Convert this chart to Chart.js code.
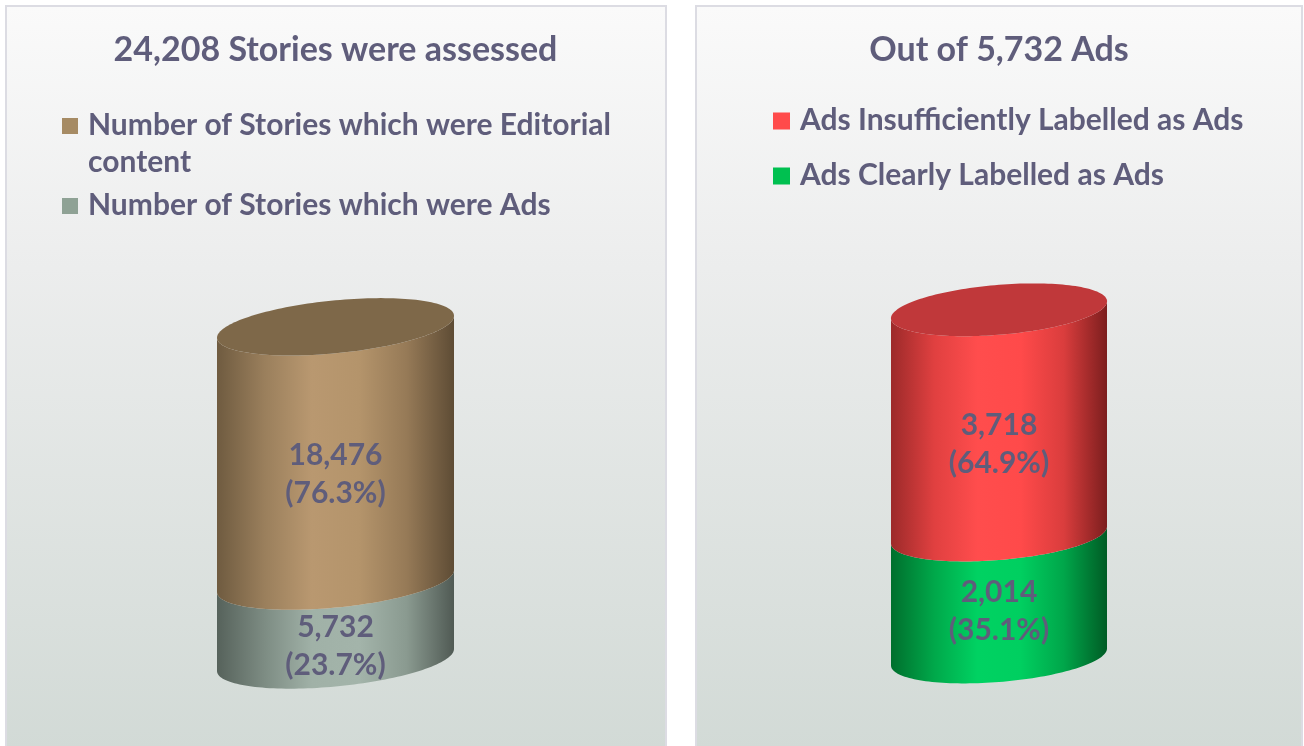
<!DOCTYPE html>
<html>
<head>
<meta charset="utf-8">
<script src="https://cdn.jsdelivr.net/npm/chart.js@4.4.1/dist/chart.umd.min.js"></script>
<style>
  body { margin: 0; background: #fff; width: 1304px; height: 746px; overflow: hidden; position: relative; }
  .panel {
    position: absolute; top: 5px; height: 745px; box-sizing: border-box;
    border: 2px solid #dcdce3; border-bottom: none;
    background: linear-gradient(#fafafa 0%, #eceded 35%, #d2dad6 100%);
  }
  canvas { position: absolute; top: 5px; }
</style>
</head>
<body>
<div class="panel" style="left:5px;width:662px"></div>
<div class="panel" style="left:695px;width:608px"></div>
<canvas id="chartStories" width="661" height="741" style="left:5px"></canvas>
<canvas id="chartAds" width="606" height="741" style="left:696px"></canvas>

<script>
// ---- dados (de baixo para cima na pilha) ----
const storiesTitle = '24,208 Stories were assessed';
const storiesLabels = ['Number of Stories which were Ads', 'Number of Stories which were Editorial content'];
const storiesValues = [5732, 18476];

const adsTitle = 'Out of 5,732 Ads';
const adsLabels = ['Ads Clearly Labelled as Ads', 'Ads Insufficiently Labelled as Ads'];
const adsValues = [2014, 3718];

const textColor = '#5f5d7b';
const fontFamily = 'Lato, Carlito, "Open Sans", sans-serif';

// desenha um segmento do cilindro (elipse inclinada por cisalhamento)
function desenharSegmento(ctx, cx, rx, ry, s, yTop, yBase, stops, capColor) {
  const g = ctx.createLinearGradient(cx - rx, 0, cx + rx, 0);
  stops.forEach((c, i) => g.addColorStop(i / (stops.length - 1), c));
  ctx.beginPath();
  ctx.moveTo(cx - rx, yTop + s);
  ctx.lineTo(cx - rx, yBase + s);
  for (let k = 0; k <= 80; k++) {
    const t = Math.PI * (1 - k / 80);
    ctx.lineTo(cx + rx * Math.cos(t), yBase + ry * Math.sin(t) - s * Math.cos(t));
  }
  ctx.lineTo(cx + rx, yTop - s);
  for (let k = 0; k <= 80; k++) {
    const t = Math.PI * k / 80;
    ctx.lineTo(cx + rx * Math.cos(t), yTop + ry * Math.sin(t) - s * Math.cos(t));
  }
  ctx.closePath();
  ctx.fillStyle = g;
  ctx.fill();

  if (capColor) {
    ctx.beginPath();
    for (let k = 0; k <= 160; k++) {
      const t = 2 * Math.PI * k / 160;
      const px = cx + rx * Math.cos(t), py = yTop + ry * Math.sin(t) - s * Math.cos(t);
      if (k === 0) ctx.moveTo(px, py); else ctx.lineTo(px, py);
    }
    ctx.closePath();
    ctx.fillStyle = capColor;
    ctx.fill();
  }
}

const cilindroPlugin = {
  id: 'cilindro',
  beforeDatasetsDraw(chart, args, opts) {
    const ctx = chart.ctx;
    const n = chart.data.datasets.length;
    ctx.save();
    for (let i = 0; i < n; i++) {
      const bar = chart.getDatasetMeta(i).data[0];
      const rx = bar.width / 2;
      desenharSegmento(ctx, bar.x, rx, opts.ry, opts.shear, bar.y, bar.base,
        opts.gradients[i], i === n - 1 ? opts.capColor : null);
    }
    ctx.restore();
    return false;
  },
  afterDraw(chart, args, opts) {
    const ctx = chart.ctx;
    const valores = chart.data.datasets.map(d => d.data[0]);
    const total = valores.reduce((a, b) => a + b, 0);
    ctx.save();
    ctx.fillStyle = textColor;
    ctx.font = 'bold 30px ' + fontFamily;
    ctx.textAlign = 'center';
    ctx.textBaseline = 'middle';
    chart.data.datasets.forEach((ds, i) => {
      const bar = chart.getDatasetMeta(i).data[0];
      const yc = (bar.y + bar.base) / 2 + opts.labelOffset[i];
      const v = ds.data[0];
      ctx.fillText(v.toLocaleString('en-US'), bar.x, yc - 19);
      ctx.fillText('(' + (v / total * 100).toFixed(1) + '%)', bar.x, yc + 19);
    });
    ctx.restore();
  }
};

// legenda desenhada à mão (quebra de linha no texto)
const legendaPlugin = {
  id: 'legendaManual',
  afterDraw(chart, args, opts) {
    const ctx = chart.ctx;
    ctx.save();
    ctx.font = 'bold 30px ' + fontFamily;
    ctx.textBaseline = 'middle';
    let y = opts.y;
    const ds = chart.data.datasets.slice().reverse();
    ds.forEach(d => {
      const palavras = d.label.split(' ');
      const linhas = [];
      let atual = '';
      palavras.forEach(p => {
        const teste = atual ? atual + ' ' + p : p;
        if (ctx.measureText(teste).width > opts.maxWidth && atual) {
          linhas.push(atual);
          atual = p;
        } else {
          atual = teste;
        }
      });
      linhas.push(atual);
      ctx.fillStyle = d.backgroundColor;
      ctx.fillRect(opts.markerX, y - opts.box / 2 + 1, opts.box, opts.box);
      ctx.fillStyle = textColor;
      linhas.forEach((l, j) => ctx.fillText(l, opts.textX, y + j * opts.lineGap));
      y += (linhas.length - 1) * opts.lineGap + opts.itemGap;
    });
    ctx.restore();
  }
};

function montarCilindro(idCanvas, titulo, labels, valores, cores, cfg) {
  const total = valores.reduce((a, b) => a + b, 0);
  return new Chart(document.getElementById(idCanvas), {
    type: 'bar',
    data: {
      labels: [''],
      datasets: labels.map((l, i) => ({
        label: l,
        data: [valores[i]],
        backgroundColor: cores[i],
        barThickness: cfg.barWidth
      }))
    },
    options: {
      responsive: false,
      animation: false,
      devicePixelRatio: 1,
      layout: { padding: { top: 0, left: 0, right: 0, bottom: cfg.padBottom } },
      plugins: {
        legend: { display: false },
        tooltip: { enabled: false },
        title: {
          display: true,
          text: titulo,
          color: textColor,
          font: { family: fontFamily, size: 34, weight: 'bold' },
          padding: { top: 25, bottom: cfg.titleGap }
        },
        cilindro: cfg.cilindro,
        legendaManual: cfg.legenda
      },
      scales: {
        x: { stacked: true, display: false },
        y: { stacked: true, display: false, min: 0, max: total }
      }
    },
    plugins: [cilindroPlugin, legendaPlugin]
  });
}

montarCilindro('chartStories', storiesTitle, storiesLabels, storiesValues, ['#8fa295', '#a68b64'], {
  barWidth: 237,
  padBottom: 86,
  titleGap: 256,
  cilindro: {
    ry: 26.5,
    shear: 11,
    capColor: '#7e6849',
    labelOffset: [26, 20],
    gradients: [
      ['#56625b', '#7d8c83', '#a0b1a7', '#a3b4aa', '#8a9a90', '#505a54'],
      ['#6f5b40', '#9a7f5c', '#b99870', '#b4946b', '#967a57', '#5e4c35']
    ]
  },
  legenda: { y: 120, markerX: 57, textX: 83, box: 16, lineGap: 37, itemGap: 43, maxWidth: 560 }
});

montarCilindro('chartAds', adsTitle, adsLabels, adsValues, ['#00c050', '#ff4b4b'], {
  barWidth: 216,
  padBottom: 89,
  titleGap: 239,
  cilindro: {
    ry: 25,
    shear: 8.5,
    capColor: '#c0383a',
    labelOffset: [15, 22],
    gradients: [
      ['#006f2d', '#00a84a', '#00d262', '#00cf60', '#00a64a', '#005c25'],
      ['#9c2a2a', '#e04040', '#ff4d4d', '#ff4a4a', '#da3d3d', '#7c1e1e']
    ]
  },
  legenda: { y: 115, markerX: 77, textX: 104, box: 17, lineGap: 36, itemGap: 55, maxWidth: 480 }
});
</script>
</body>
</html>
